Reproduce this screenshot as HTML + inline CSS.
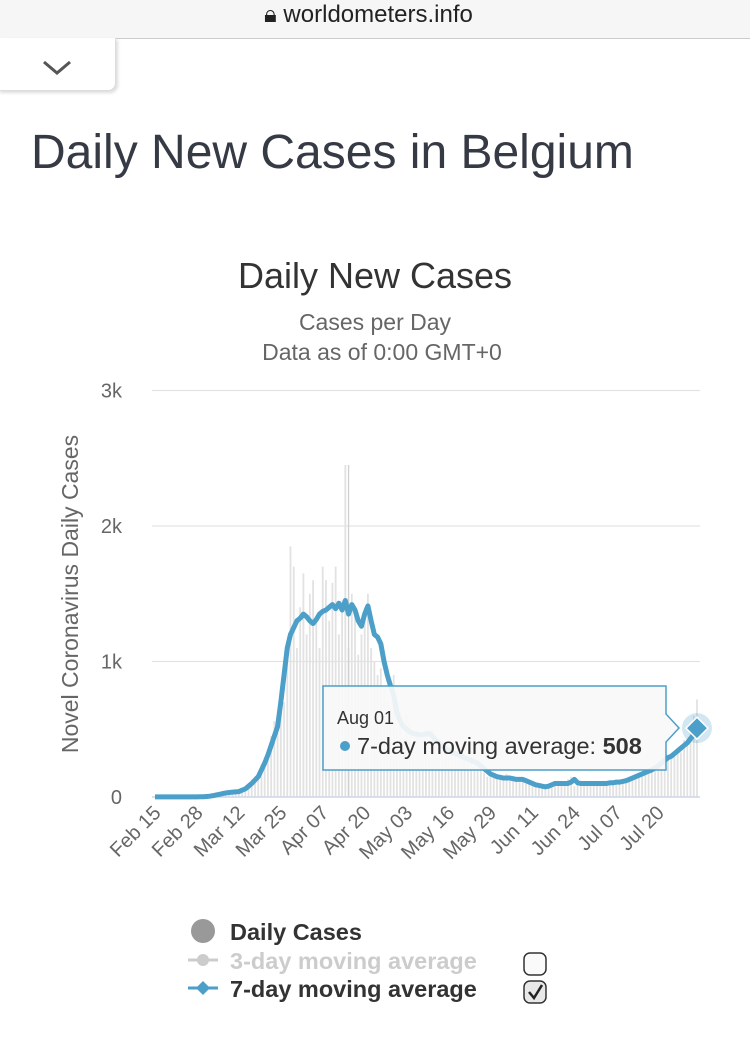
<!DOCTYPE html>
<html><head><meta charset="utf-8"><style>
body{margin:0;width:750px;height:1055px;background:#fff;font-family:"Liberation Sans",sans-serif;overflow:hidden;position:relative}
.abs{position:absolute}
</style></head><body>
<div class="abs" style="left:0;top:0;width:750px;height:38px;background:#f6f6f6;border-bottom:1px solid #ccc"></div>
<div class="abs" style="left:264px;top:1px;font-size:24px;color:#222">&#x1F512;&#xFE0E; worldometers.info</div>
<div class="abs" style="left:-2px;top:38px;width:116px;height:52px;background:#fff;border:1px solid #ddd;border-top:none;border-radius:0 0 8px 0;box-shadow:2px 2px 3px #ddd"></div>
<svg class="abs" style="left:42px;top:60px" width="30" height="16"><path d="M2 2 L15 13 L28 2" fill="none" stroke="#555" stroke-width="3"/></svg>
<div class="abs" style="left:31px;top:125px;font-size:48px;color:#363a45">Daily New Cases in Belgium</div>
<svg class="abs" id="chart" style="left:0;top:0" width="750" height="1055"></svg>
<script>
const dates=["Feb 15","Feb 28","Mar 12","Mar 25","Apr 07","Apr 20","May 03","May 16","May 29","Jun 11","Jun 24","Jul 07","Jul 20"];
const yTicks=[0,1000,2000,3000];
const yTickLabels=["0","1k","2k","3k"];
const avg7=[1,1,1,1,1,1,1,1,1,1,1,1,1,1,
2,2,4,6,10,15,20,25,30,33,36,38,40,50,
60,80,100,125,150,200,250,310,380,450,520,700,900,1100,
1200,1250,1300,1320,1350,1330,1300,1280,1310,1350,1370,1380,1400,1420,
1390,1430,1380,1450,1350,1420,1380,1300,1260,1350,1410,1300,1200,1180,
1130,1000,900,820,750,620,560,520,500,480,470,465,460,460,
465,470,450,420,400,380,360,345,330,320,310,300,290,280,
270,260,250,230,210,190,170,160,150,145,140,140,140,135,
130,130,130,120,110,100,90,85,80,75,80,90,100,100,
100,100,100,110,130,105,100,100,100,100,100,100,100,100,
100,105,105,110,110,115,120,130,140,150,160,170,180,190,
200,215,230,250,270,290,300,320,340,360,380,400,430,460,508];
const daily=[0,0,0,0,0,0,0,0,0,0,0,0,0,0,
0,1,2,5,8,13,20,25,30,40,35,40,45,55,
70,100,130,150,180,240,290,340,450,560,600,820,700,1050,
1850,1700,1100,1400,1650,1200,1500,1600,1300,1100,1700,1600,1300,1580,
1700,1200,1450,2450,1100,1500,1400,1050,1200,1400,1500,1100,1000,900,
950,800,700,600,900,500,650,400,600,550,380,500,450,480,
500,300,500,450,350,400,350,300,320,350,250,300,280,250,
260,230,200,250,180,150,190,140,160,130,150,170,120,140,
130,110,140,100,120,90,80,90,70,80,90,100,80,120,
110,90,130,150,80,90,110,100,95,105,90,110,100,120,
100,110,95,120,100,130,120,150,140,170,160,190,170,210,
230,200,260,240,300,280,320,340,360,330,420,400,480,600,720];
const NS="http://www.w3.org/2000/svg";
const svg=document.getElementById('chart');
const X0=155,DX=3.226,Y0=797,KY=0.1355;
const xs=i=>X0+i*DX, ys=v=>Y0-v*KY;
function mk(t,a,txt){const e=document.createElementNS(NS,t);for(const k in a)e.setAttribute(k,a[k]);if(txt!=null)e.textContent=txt;svg.appendChild(e);return e;}
let e;
e=mk('text',{x:375,y:288,'text-anchor':'middle','font-size':36,fill:'#333'},'Daily New Cases');


e=mk('text',{x:375,y:330,'text-anchor':'middle','font-size':23,fill:'#666'},'Cases per Day');


e=mk('text',{x:382,y:360,'text-anchor':'middle','font-size':23,fill:'#666'},'Data as of 0:00 GMT+0');


e=mk('text',{x:0,y:0,'text-anchor':'middle','font-size':23,fill:'#666',transform:'translate(78,594) rotate(-90)'},'Novel Coronavirus Daily Cases');


yTicks.forEach((v,i)=>{
  if(i>0){const g=mk('line',{x1:152,x2:700,y1:ys(v),y2:ys(v),stroke:'#e3e3e3','stroke-width':1.3});
  
  }
  const t=mk('text',{x:122,y:ys(v)+7,'text-anchor':'end','font-size':20,fill:'#666'},yTickLabels[i]);
  
  
});
daily.forEach((v,i)=>{
  const b=mk('rect',{x:xs(i)-0.9,y:ys(v),width:1.8,height:v*KY,fill:'#e2e2e2'});
  
  
});
e=mk('line',{x1:xs(60),x2:xs(60),y1:465,y2:797,stroke:'#d0d0d0','stroke-width':1.3});


e=mk('line',{x1:152,x2:700,y1:Y0,y2:Y0,stroke:'#ccd6eb','stroke-width':1.5});


dates.forEach((d,i)=>{
  const x=xs(i*13);
  const t=mk('text',{x:0,y:0,'text-anchor':'end','font-size':20,fill:'#666',transform:`translate(${x+7},${814}) rotate(-45)`},d);
  
  
});
e=mk('polyline',{points:avg7.map((v,i)=>xs(i)+','+ys(v)).join(' '),fill:'none',stroke:'#4b9fc8','stroke-width':5,'stroke-linejoin':'round'});


const lx=xs(avg7.length-1),ly=ys(avg7[avg7.length-1]);
e=mk('circle',{cx:lx,cy:ly,r:15,fill:'#4b9fc8','fill-opacity':0.25});


e=mk('path',{d:`M${lx} ${ly-11} L${lx+11} ${ly} L${lx} ${ly+11} L${lx-11} ${ly} Z`,fill:'#4b9fc8',stroke:'#fff','stroke-width':1.5});


e=mk('path',{d:`M323 686 H666 V714 L679 728 L666 742 V770 H323 Z`,fill:'#f8f8f8','fill-opacity':0.92,stroke:'#4b9fc8','stroke-width':1.5});


e=mk('text',{x:337,y:724,'font-size':18,fill:'#333'},'Aug 01');


e=mk('circle',{cx:345,cy:746,r:5,fill:'#4b9fc8'});


e=mk('text',{x:357,y:754,'font-size':23.5,fill:'#333'},'7-day moving average: ');


const tv=mk('tspan',{'font-weight':'bold'},String(avg7[avg7.length-1]));e.appendChild(tv);
// legend
e=mk('circle',{cx:203,cy:931,r:12,fill:'#999'});


e=mk('text',{x:230,y:940,'font-size':23.5,'font-weight':'bold',fill:'#333'},'Daily Cases');


e=mk('line',{x1:188,x2:218,y1:960,y2:960,stroke:'#ccc','stroke-width':3});


e=mk('circle',{cx:203,cy:960,r:6,fill:'#ccc'});


e=mk('text',{x:230,y:969,'font-size':23.5,'font-weight':'bold',fill:'#ccc'},'3-day moving average');


e=mk('line',{x1:188,x2:218,y1:988,y2:988,stroke:'#4b9fc8','stroke-width':3});


e=mk('path',{d:'M203 981 L210 988 L203 995 L196 988 Z',fill:'#4b9fc8'});


e=mk('text',{x:230,y:997,'font-size':23.5,'font-weight':'bold',fill:'#333'},'7-day moving average');


e=mk('rect',{x:524,y:953,width:22,height:22,rx:6,fill:'#fafafa',stroke:'#333','stroke-width':1.5});


e=mk('rect',{x:524,y:981,width:22,height:22,rx:6,fill:'#e8e8e8',stroke:'#333','stroke-width':1.5});


e=mk('path',{d:'M529 992 L534 998 L542 985',fill:'none',stroke:'#222','stroke-width':2.5});


</script>
</body></html>
